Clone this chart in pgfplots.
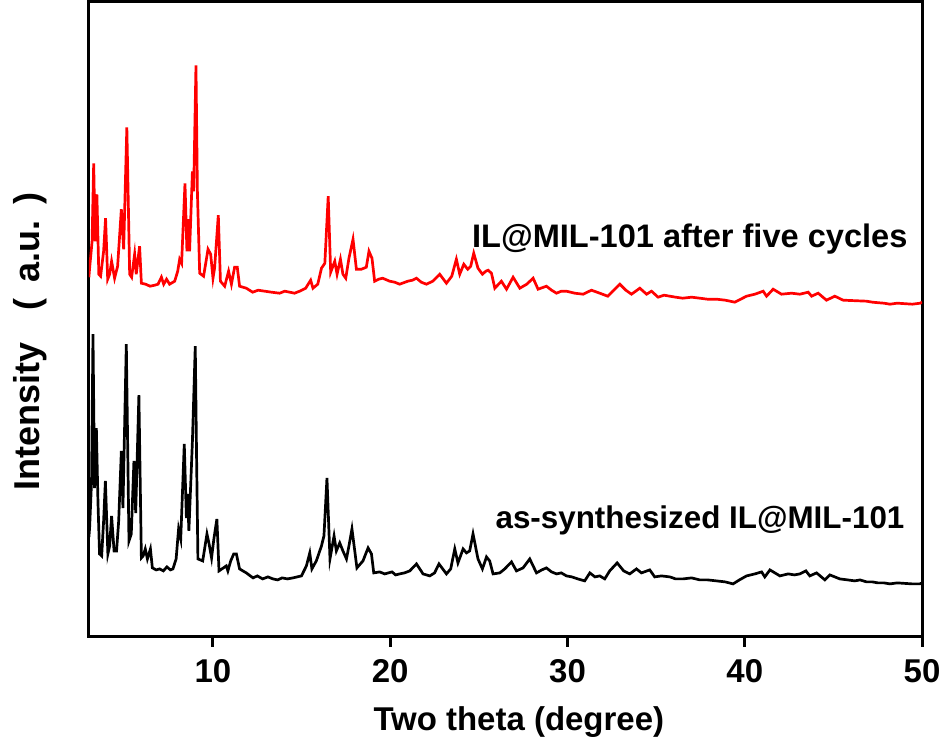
\documentclass[border=0pt]{standalone}
\usepackage{fontspec}
\setmainfont{Liberation Sans}
\usepackage{pgfplots}
\pgfplotsset{compat=1.18}
\usetikzlibrary{calc}

\begin{document}
\begin{tikzpicture}
\begin{axis}[
  scale only axis, width=417pt, height=318pt,
  xmin=3, xmax=50, ymin=0, ymax=636,
  axis line style={line width=1.5pt},
  xtick={10,20,30,40,50}, ytick=\empty,
  xtick pos=bottom, tick align=outside,
  major tick length=5pt,
  every tick/.style={black, line width=1.5pt},
  font=\bfseries\fontsize{16}{19}\selectfont,
  /pgf/number format/assume math mode=true,
  xticklabel style={font=\bfseries\fontsize{16.5}{19}\selectfont, anchor=base, yshift=-18pt},
  xlabel={Two theta (degree)},
  xlabel style={at={(rel axis cs:0.516,0)}, anchor=base, yshift=-47pt, font=\bfseries\fontsize{16.5}{19}\selectfont},
  ylabel={Intensity\hspace{0.9em}(\hspace{0.45em}a.u.\hspace{0.45em})},
  ylabel style={at={(axis description cs:-0.0707,0.465)}, anchor=center, font=\bfseries\fontsize{18}{21}\selectfont},
  clip=true,
]
% black: as-synthesized
\addplot[black, line width=1.35pt] coordinates {
(3.00,100) (3.04,109) (3.15,156) (3.23,303) (3.32,149) (3.42,209) (3.51,136) (3.60,83) (3.72,81)
(3.83,116) (3.93,156) (4.07,83) (4.17,91) (4.28,121) (4.42,86) (4.56,86) (4.68,116) (4.83,186)
(4.92,129) (5.11,293) (5.26,96) (5.39,103) (5.54,176) (5.64,124) (5.82,242) (5.96,79) (6.06,81)
(6.18,88) (6.30,78) (6.47,88) (6.58,69) (6.80,67) (6.99,68) (7.20,66) (7.40,70) (7.60,67) (7.74,68) (7.92,78) (8.06,108) (8.18,98)
(8.38,193) (8.50,119) (8.57,143) (8.64,106) (8.84,196) (9.00,291) (9.07,186) (9.15,78) (9.42,76)
(9.66,103) (9.77,94) (9.92,79) (10.05,98) (10.22,118) (10.34,66) (10.75,71) (10.84,66) (11.00,76)
(11.17,83) (11.32,83) (11.50,68) (11.88,64) (12.26,59) (12.50,61) (12.80,58) (13.10,60) (13.38,58) (13.65,57) (13.90,59) (14.20,58) (14.51,59)
(14.75,60) (14.99,61) (15.27,71) (15.46,84) (15.58,68) (15.83,76) (16.12,91) (16.26,101) (16.43,159) (16.60,78)
(16.83,101) (16.96,86) (17.15,94) (17.33,86) (17.53,78) (17.67,91) (17.84,108) (18.12,69) (18.46,76)
(18.75,89) (18.94,83) (19.07,64) (19.40,65) (19.69,63) (20.10,65) (20.30,62) (20.53,63) (20.80,64) (21.10,66) (21.48,73) (21.85,63)
(22.23,61) (22.50,64) (22.75,73) (23.17,63) (23.41,68) (23.64,88) (23.82,74) (24.11,88) (24.30,84) (24.48,86)
(24.67,103) (24.95,78) (25.20,68) (25.43,80) (25.61,76) (25.80,63) (26.18,64) (26.46,68) (26.84,75)
(27.12,66) (27.49,69) (27.87,78) (28.25,64) (28.55,67) (28.81,69) (29.10,65) (29.38,63) (29.65,64) (29.94,61) (30.25,60) (30.58,58) (30.97,56)
(31.26,64) (31.55,60) (31.82,61) (32.10,58) (32.38,66) (32.80,74) (33.17,66) (33.51,63) (33.89,68) (34.17,64)
(34.64,67) (34.92,60) (35.30,61) (35.77,60) (36.10,58) (36.52,58) (37.00,59) (37.46,57) (37.90,57) (38.41,56) (38.90,55) (39.34,53) (39.70,57) (40.10,61) (40.57,63)
(40.95,65) (41.13,60) (41.42,67) (41.98,61) (42.45,63) (42.80,62) (43.11,63) (43.45,66) (43.67,61) (44.05,64)
(44.52,57) (44.80,62) (45.36,58) (45.80,57) (46.21,56) (46.50,57) (46.87,55) (47.20,55) (47.51,54) (47.85,54) (48.19,53) (48.60,54) (49.03,53.5) (49.45,53) (49.88,53)
(50.00,54)
};
% red: after five cycles
\addplot[red, line width=1.35pt] coordinates {
(3.00,360) (3.04,369) (3.18,396) (3.27,474) (3.35,396) (3.45,443) (3.56,363) (3.66,361) (3.83,386)
(3.94,419) (4.06,358) (4.17,363) (4.28,376) (4.45,359) (4.62,371) (4.83,428) (4.96,388) (5.14,510)
(5.30,363) (5.41,360) (5.58,383) (5.67,363) (5.86,391) (5.96,354) (6.20,353) (6.45,351) (6.71,352) (6.90,353) (7.09,360)
(7.22,353) (7.38,358) (7.55,353) (7.84,356) (8.01,366) (8.12,378) (8.23,374) (8.42,454) (8.53,386)
(8.61,418) (8.68,386) (8.84,466) (8.91,446) (9.04,572) (9.12,446) (9.25,364) (9.47,361) (9.72,388)
(9.87,383) (10.00,359) (10.09,369) (10.30,422) (10.42,356) (10.66,351) (10.88,366) (11.04,353)
(11.22,370) (11.37,370) (11.50,351) (11.88,349) (12.24,345) (12.55,347) (12.92,346) (13.30,345) (13.76,344) (14.05,346) (14.33,345)
(14.60,344) (14.89,346) (15.23,349) (15.51,357) (15.64,349) (15.91,353) (16.12,369) (16.31,374) (16.50,441)
(16.64,365) (16.87,376) (17.00,363) (17.19,378) (17.33,363) (17.49,359) (17.67,379) (17.90,398)
(18.09,368) (18.37,368) (18.65,370) (18.80,386) (18.97,379) (19.12,356) (19.35,358) (19.57,359) (19.97,356)
(20.25,355) (20.53,353) (20.99,356) (21.25,357) (21.48,359) (21.75,355) (22.04,353) (22.40,356) (22.79,363) (23.17,354) (23.47,361)
(23.73,378) (23.92,363) (24.15,373) (24.37,368) (24.54,371) (24.71,384) (24.95,369) (25.20,363)
(25.39,366) (25.52,367) (25.71,364) (25.90,349) (26.27,356) (26.56,348) (26.93,360) (27.31,349)
(27.70,353) (28.06,359) (28.34,348) (28.81,351) (29.10,347) (29.38,344) (29.65,346) (29.94,346) (30.41,344) (30.88,343)
(31.35,347) (31.82,344) (32.27,341) (32.55,346) (32.95,353) (33.29,347) (33.61,343) (34.08,349)
(34.46,343) (34.74,346) (35.11,340) (35.45,342) (35.77,341) (36.10,340) (36.50,339) (37.00,340) (37.46,339) (37.90,338) (38.41,338) (38.90,337) (39.44,335)
(40.10,341) (40.57,343) (41.04,346) (41.23,341) (41.60,348) (42.07,343) (42.64,344) (43.11,343)
(43.58,345) (43.77,341) (44.14,344) (44.61,337) (45.08,341) (45.55,337) (46.21,336.5) (46.87,336)
(47.20,335) (47.51,334.5) (47.85,334) (48.19,333) (48.60,334) (49.03,333.5) (49.45,333) (49.90,334) (50.00,335)
};
\node[anchor=base east, inner sep=0pt, font=\bfseries\fontsize{16.3}{19}\selectfont] at (axis cs:49.2,390) {IL@MIL-101 after five cycles};
\node[anchor=base east, inner sep=0pt, font=\bfseries\fontsize{15.7}{19}\selectfont] at (axis cs:49.03,108) {as-synthesized IL@MIL-101};
\coordinate (bl) at (rel axis cs:0,0);
\coordinate (tr) at (rel axis cs:1,1);
\end{axis}
\pgfresetboundingbox
\useasboundingbox ($(bl)+(-44.5pt,-51pt)$) rectangle ($(tr)+(10.5pt,0.75pt)$);
\end{tikzpicture}
\end{document}
